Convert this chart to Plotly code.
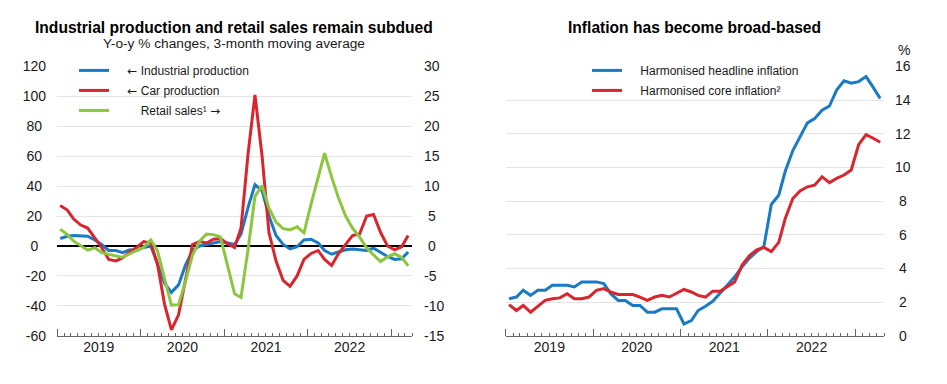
import pandas as pd
import plotly.graph_objects as go

# ---------------- data ----------------
months_left = pd.date_range("2019-01-01", periods=51, freq="MS") + pd.Timedelta(days=14)
months_right = pd.date_range("2019-01-01", periods=52, freq="MS") + pd.Timedelta(days=14)

industrial_production = [5, 6.5, 7, 7, 6.5, 4, 1, -3, -3, -4.5, -2.5, -3, -1, 0,
                         -12, -25, -31, -26, -13, -3, 0, 1, 2, 3, 2, 1, 8, 26, 41, 37,
                         20, 7, 1, -2, -0.5, 4, 4.5, 2, -3, -5.5, -4, -2.5, -2, -2.5,
                         -3, -1.5, -4.5, -7, -9, -8.5, -4]
car_production = [27, 24, 18, 14, 12, 5, -1, -9, -10, -8, -4, -1, 3, 2,
                  -12, -39, -56, -46, -23, 1, 3, 2, 4.5, 5, 1.5, -1, 12, 62, 101, 60,
                  9, -10, -23, -27, -20, -9, -5, -3, -9, -13, -5, 1, 7, 8,
                  20, 21, 9, 0, -2.5, -0.5, 7]
retail_sales = [2.8, 1.9, 0.8, 0, -0.7, -0.3, -1.1, -1.4, -1.7, -1.9, -1.3, -0.8, -0.2, 1.0,
                -0.8, -5.5, -9.9, -9.8, -6, -1.5, 0.8, 2.0, 1.9, 1.5, -3.5, -8, -8.6, -0.5,
                8.3, 10.1, 6.3, 4, 2.9, 2.7, 3.2, 2.2, 7, 11.5, 15.5, 11.5, 8, 5, 3, 1.5,
                -0.3, -1.5, -2.6, -1.8, -1.3, -1.9, -3.3]

headline_inflation = [2.2, 2.3, 2.7, 2.4, 2.7, 2.7, 3.0, 3.0, 3.0, 2.9, 3.2, 3.2, 3.2, 3.1,
                      2.5, 2.1, 2.1, 1.8, 1.8, 1.4, 1.4, 1.6, 1.6, 1.6, 0.7, 0.9, 1.5,
                      1.75, 2.05, 2.5, 3.0, 3.5, 4.1, 4.6, 5.0, 5.3, 7.8, 8.35, 9.8, 11.0,
                      11.85, 12.65, 12.9, 13.4, 13.65, 14.6, 15.15, 15.0, 15.1, 15.4, 14.8, 14.1]
core_inflation = [1.85, 1.5, 1.8, 1.4, 1.75, 2.1, 2.2, 2.25, 2.5, 2.2, 2.2, 2.3, 2.7, 2.8,
                  2.6, 2.45, 2.45, 2.45, 2.3, 2.1, 2.3, 2.4, 2.3, 2.5, 2.75, 2.6, 2.4,
                  2.3, 2.65, 2.65, 2.9, 3.2, 4.2, 4.75, 5.1, 5.25, 5.0, 5.55, 7.0, 8.15,
                  8.6, 8.85, 8.95, 9.45, 9.1, 9.35, 9.55, 9.85, 11.35, 11.95, 11.75, 11.5]

left_ticks = [-60, -40, -20, 0, 20, 40, 60, 80, 100, 120]
left_ticktext = ["-60", "-40", "-20", "0\u00a0\u00a0", "20\u00a0", "40\u00a0", "60\u00a0", "80\u00a0", "100", "120"]
right1_ticks = [-15, -10, -5, 0, 5, 10, 15, 20, 25, 30]
right1_ticktext = ["-15", "-10", "-5", "\u00a00", "\u00a05", "10", "15", "20", "25", "30"]
right2_ticks = [0, 2, 4, 6, 8, 10, 12, 14, 16]
right2_ticktext = ["\u00a00", "\u00a02", "\u00a04", "\u00a06", "\u00a08", "10", "12", "14", "16"]

BLUE = "#1a7bc4"
RED = "#d9262e"
GREEN = "#8cc63f"
FONT = "Arial, Liberation Sans, sans-serif"
TXT = "#1a1a1a"
NB = "\u00a0"
ARROW_L = "<span style='font-family:DejaVu Sans'>\u2190</span>"
ARROW_R = "<span style='font-family:DejaVu Sans'>\u2192</span>"

fig = go.Figure()

fig.add_trace(go.Scatter(x=months_left, y=industrial_production, mode="lines",
                         name=NB * 4 + ARROW_L + " Industrial production",
                         line=dict(color=BLUE, width=3), xaxis="x", yaxis="y",
                         legend="legend", legendgroup="a"))
fig.add_trace(go.Scatter(x=months_left, y=car_production, mode="lines",
                         name=NB * 4 + ARROW_L + " Car production",
                         line=dict(color=RED, width=3), xaxis="x", yaxis="y",
                         legend="legend", legendgroup="b"))
fig.add_trace(go.Scatter(x=months_left, y=retail_sales, mode="lines",
                         name=NB * 8 + "Retail sales\u00b9 " + ARROW_R,
                         line=dict(color=GREEN, width=3), xaxis="x", yaxis="y2",
                         legend="legend", legendgroup="c"))

fig.add_trace(go.Scatter(x=months_right, y=headline_inflation, mode="lines",
                         name=NB * 4 + "Harmonised headline inflation",
                         line=dict(color=BLUE, width=3), xaxis="x2", yaxis="y3",
                         legend="legend2", legendgroup="d"))
fig.add_trace(go.Scatter(x=months_right, y=core_inflation, mode="lines",
                         name=NB * 4 + "Harmonised core inflation\u00b2",
                         line=dict(color=RED, width=3), xaxis="x2", yaxis="y3",
                         legend="legend2", legendgroup="e"))

ydom = [1 - 342 / 384, 1 - 61 / 384]

xcommon = dict(type="date", showgrid=False, showline=True, linecolor="#666", linewidth=1,
               ticks="inside", ticklen=7, tickcolor="#666", tickwidth=1,
               dtick="M12", tick0="2019-01-01", tickformat="%Y", ticklabelmode="period",
               ticklabelstandoff=-2,
               tickfont=dict(size=14, color=TXT, family=FONT),
               minor=dict(dtick="M1", ticks="inside", ticklen=3, tickcolor="#666", tickwidth=1, showgrid=False),
               fixedrange=True)

fig.update_layout(
    width=947, height=384,
    margin=dict(l=0, r=0, t=0, b=0),
    paper_bgcolor="white", plot_bgcolor="white",
    font=dict(family=FONT, color=TXT, size=14),
    showlegend=True,
    xaxis=dict(domain=[57 / 947, 412 / 947], range=["2019-01-01", "2023-04-01"], anchor="y", **xcommon),
    yaxis=dict(domain=ydom, range=[-60, 120], tickvals=left_ticks, ticktext=left_ticktext,
               showgrid=True, gridcolor="#e4e4e4", gridwidth=1,
               zeroline=True, zerolinecolor="black", zerolinewidth=1.5,
               ticks="", ticklabelstandoff=10, tickfont=dict(size=14, color=TXT, family=FONT),
               showline=False, fixedrange=True),
    yaxis2=dict(domain=ydom, range=[-15, 30], tickvals=right1_ticks, ticktext=right1_ticktext,
                overlaying="y", side="right", anchor="x", showgrid=False, zeroline=False,
                ticks="", ticklabelstandoff=11, tickfont=dict(size=14, color=TXT, family=FONT),
                fixedrange=True),
    xaxis2=dict(domain=[505.7 / 947, 884 / 947], range=["2019-01-01", "2023-05-01"], anchor="y3", **xcommon),
    yaxis3=dict(domain=ydom, range=[0, 16], tickvals=right2_ticks, ticktext=right2_ticktext,
                side="right", anchor="x2", showgrid=True, gridcolor="#e4e4e4", gridwidth=1,
                zeroline=False, ticks="", ticklabelstandoff=10,
                tickfont=dict(size=14, color=TXT, family=FONT), fixedrange=True),
    legend=dict(x=74 / 947, y=1 - 50 / 384, xanchor="left", yanchor="top",
                bgcolor="rgba(0,0,0,0)", borderwidth=0, tracegroupgap=1,
                font=dict(size=12, color=TXT, family=FONT), traceorder="grouped"),
    legend2=dict(x=587 / 947, y=1 - 50 / 384, xanchor="left", yanchor="top",
                 bgcolor="rgba(0,0,0,0)", borderwidth=0, tracegroupgap=1,
                 font=dict(size=12, color=TXT, family=FONT), traceorder="grouped"),
    annotations=[
        dict(text="<b>Industrial production and retail sales remain subdued</b>",
             x=234 / 947, y=1 - 20.5 / 384, xref="paper", yref="paper",
             xanchor="center", yanchor="middle", showarrow=False,
             font=dict(size=15.6, color="black", family=FONT)),
        dict(text="Y-o-y % changes, 3-month moving average",
             x=234 / 947, y=1 - 37 / 384, xref="paper", yref="paper",
             xanchor="center", yanchor="middle", showarrow=False,
             font=dict(size=13.7, color=TXT, family=FONT)),
        dict(text="<b>Inflation has become broad-based</b>",
             x=694 / 947, y=1 - 20.5 / 384, xref="paper", yref="paper",
             xanchor="center", yanchor="middle", showarrow=False,
             font=dict(size=15.6, color="black", family=FONT)),
        dict(text="%", x=904 / 947, y=1 - 44 / 384, xref="paper", yref="paper",
             xanchor="center", yanchor="middle", showarrow=False,
             font=dict(size=14, color=TXT, family=FONT)),
    ],
)

fig.write_html("out.html", config={"displayModeBar": False},
               post_script="document.body.style.margin='0';document.body.style.padding='0';"
                           "document.documentElement.style.overflow='hidden';")
